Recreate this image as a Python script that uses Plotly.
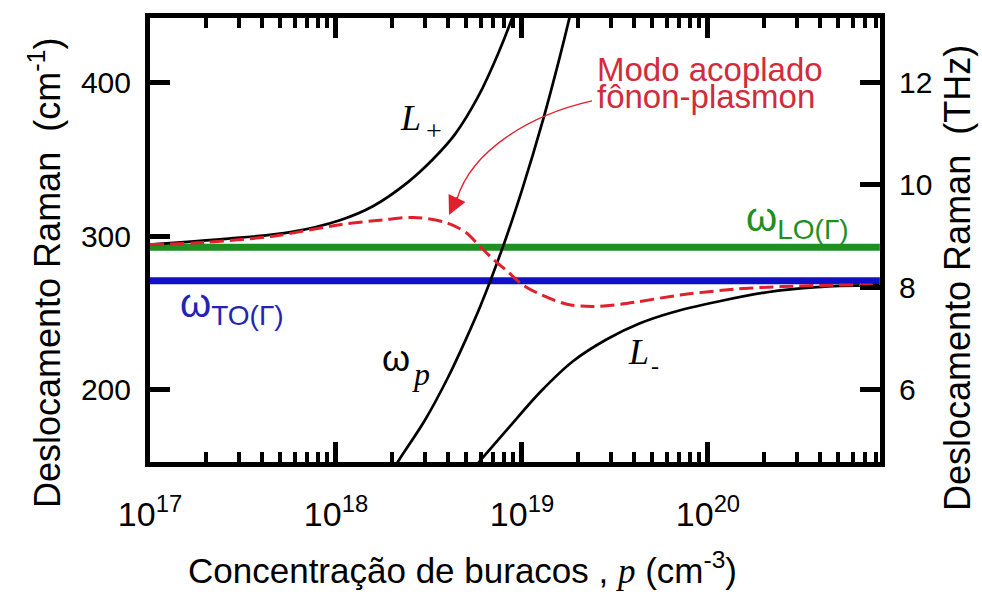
import plotly.graph_objects as go

# Hole concentration p (cm^-3) and Raman shift (cm^-1) of each branch
p_plasma = [2.0e18, 2.2e18, 3.0e18, 4.0e18, 5.0e18, 6.0e18, 8.0e18, 1.0e19, 1.3e19, 1.6e19, 1.85e19, 2.0e19]
w_plasma = [147, 155, 180, 208, 233, 255, 295, 330, 376, 417, 448, 466]

p_upper = [1e17, 3.05e17, 5.7e17, 1.05e18, 1.58e18, 2.44e18, 3.33e18, 4.37e18, 5.8e18, 7.43e18, 9.06e18, 1.04e19]
w_upper = [294.5, 299, 302.6, 310.4, 319.5, 335.2, 350.2, 366.4, 390.6, 418.6, 445.3, 468]

p_lower = [5.8e18, 6.17e18, 8.61e18, 1.25e19, 1.88e19, 2.86e19, 4.31e19, 6.48e19, 1.12e20, 2.08e20, 3.85e20, 7.71e20, 8.4e20]
w_lower = [152.1, 156.0, 176.2, 198.4, 218.6, 232.9, 243.3, 250.5, 257.3, 263.5, 266.8, 268.1, 268.1]

p_coupled = [1e17, 2e17, 4.6e17, 1.05e18, 1.8e18, 2.6e18, 3.9e18, 5.0e18, 5.9e18, 7.0e18, 8.3e18,
             1.0e19, 1.25e19, 1.75e19, 2.4e19, 3.4e19, 7.4e19, 1.4e20, 2.5e20, 4.7e20, 8.4e20]
w_coupled = [294.5, 296, 300, 307.5, 310.6, 312.2, 308.9, 302.4, 293.7, 285, 277.4,
             268.7, 262.2, 255.7, 254.2, 255.7, 262, 265.5, 267.2, 268.1, 268.3]

# Zone-centre phonon frequencies (cm^-1)
w_LO = 292.8
w_TO = 271.0

P_RANGE = [1e17, 8.4e20]
W_RANGE = [153, 442]
CM_PER_THZ = 33.356

x_ticks = [1e17, 1e18, 1e19, 1e20]
x_tick_text = ["10<sup>17</sup>", "10<sup>18</sup>", "10<sup>19</sup>", "10<sup>20</sup>"]
minor_vals = [m * 10.0 ** e for e in range(17, 21) for m in range(2, 10) if m * 10.0 ** e < P_RANGE[1]]
y_ticks = [200, 300, 400]
thz_ticks = [6, 8, 10, 12]

SANS = "Liberation Sans, Arial, sans-serif"
SERIF = "Liberation Serif, Times New Roman, serif"
GREEN = "#1f8f1f"
BLUE = "#1010c8"
RED = "#e0202c"
TEXT_RED = "#d02c3c"

# plot area in pixels
L, R, T, B = 150, 102, 18, 132
W, H = 982, 594
PW, PH = W - L - R, H - T - B


def fx(px):
    return (px - L) / PW


def fy(py):
    return (T + PH - py) / PH


fig = go.Figure()

fig.add_trace(go.Scatter(x=P_RANGE, y=[w_LO, w_LO], mode="lines",
                         line=dict(color=GREEN, width=7), hoverinfo="skip"))
fig.add_trace(go.Scatter(x=P_RANGE, y=[w_TO, w_TO], mode="lines",
                         line=dict(color=BLUE, width=7), hoverinfo="skip"))
for px_, wy in [(p_plasma, w_plasma), (p_upper, w_upper), (p_lower, w_lower)]:
    fig.add_trace(go.Scatter(x=px_, y=wy, mode="lines",
                             line=dict(color="black", width=2.7, shape="spline", smoothing=0.9)))
fig.add_trace(go.Scatter(x=p_coupled, y=w_coupled, mode="lines",
                         line=dict(color=RED, width=3, dash="14px,6px", shape="spline", smoothing=0.9)))
# empty trace to carry the THz axis
fig.add_trace(go.Scatter(x=[], y=[], yaxis="y2", mode="lines"))

tick_font = dict(family=SANS, size=30, color="black")

fig.update_layout(
    width=W, height=H,
    margin=dict(l=L, r=R, t=T, b=B),
    paper_bgcolor="white", plot_bgcolor="white",
    showlegend=False,
    xaxis=dict(
        type="log", range=[17, 20.925],
        tickmode="array", tickvals=x_ticks, ticktext=x_tick_text,
        ticks="inside", ticklen=20, tickwidth=5, tickcolor="black",
        minor=dict(tickmode="array", tickvals=minor_vals, ticks="inside",
                   ticklen=10, tickwidth=4, tickcolor="black"),
        showline=True, linewidth=5, linecolor="black", mirror="ticks",
        showgrid=False, zeroline=False,
        tickfont=dict(family=SANS, size=34, color="black"),
        ticklabelstandoff=18,
    ),
    yaxis=dict(
        range=W_RANGE, tickmode="array", tickvals=y_ticks,
        ticks="inside", ticklen=20, tickwidth=5, tickcolor="black",
        showline=True, linewidth=5, linecolor="black", mirror=False,
        showgrid=False, zeroline=False, tickfont=tick_font,
        ticklabelstandoff=8,
    ),
    yaxis2=dict(
        overlaying="y", side="right",
        range=[W_RANGE[0] / CM_PER_THZ, W_RANGE[1] / CM_PER_THZ],
        tickmode="array", tickvals=thz_ticks,
        ticks="inside", ticklen=20, tickwidth=5, tickcolor="black",
        showline=True, linewidth=5, linecolor="black",
        showgrid=False, zeroline=False, tickfont=tick_font,
        ticklabelstandoff=8,
    ),
)

nb = "\u00a0"
annotations = [
    # axis titles
    dict(x=fx(45), y=fy(273), text="Deslocamento Raman" + nb * 2 + "(cm<sup>-1</sup>)",
         textangle=-90, font=dict(family=SANS, size=36, color="black")),
    dict(x=fx(957), y=fy(278), text="Deslocamento Raman" + nb * 2 + "(THz)",
         textangle=-90, font=dict(family=SANS, size=36, color="black")),
    dict(x=fx(462), y=fy(568),
         text="Concentração de buracos , <span style='font-family:Liberation Serif'><i>p</i></span> (cm<sup>-3</sup>)",
         font=dict(family=SANS, size=35, color="black")),
    # branch labels
    dict(x=fx(410), y=fy(118), text="<i>L</i>", font=dict(family=SERIF, size=36, color="black")),
    dict(x=fx(434), y=fy(130), text="+", font=dict(family=SERIF, size=28, color="black")),
    dict(x=fx(638), y=fy(352), text="<i>L</i>", font=dict(family=SERIF, size=36, color="black")),
    dict(x=fx(655), y=fy(366), text="-", font=dict(family=SERIF, size=24, color="black")),
    dict(x=fx(396), y=fy(358), text="ω", font=dict(family=SANS, size=36, color="black")),
    dict(x=fx(421), y=fy(374), text="<i>p</i>", font=dict(family=SERIF, size=32, color="black")),
    dict(x=fx(744), y=fy(220), xanchor="left",
         text="ω<sub>LO(Γ)</sub>", font=dict(family=SANS, size=40, color=GREEN)),
    dict(x=fx(178), y=fy(306), xanchor="left",
         text="ω<sub>TO(Γ)</sub>", font=dict(family=SANS, size=40, color="#2424b4")),
    dict(x=fx(595), y=fy(69), xanchor="left",
         text="Modo acoplado", font=dict(family=SANS, size=33, color=TEXT_RED)),
    dict(x=fx(595), y=fy(97), xanchor="left",
         text="fônon-plasmon", font=dict(family=SANS, size=33, color=TEXT_RED)),
]
for a in annotations:
    a.setdefault("showarrow", False)
    a["xref"] = "paper"
    a["yref"] = "paper"
    a.setdefault("yanchor", "middle")
    a.setdefault("xanchor", "center")

# arrow head pointing at the coupled mode
annotations.append(dict(
    x=fx(449), y=fy(215), xref="paper", yref="paper",
    ax=9, ay=-19, axref="pixel", ayref="pixel",
    text="", showarrow=True, arrowhead=2, arrowsize=1.7, arrowwidth=2.2, arrowcolor=RED,
))
fig.update_layout(annotations=annotations)

# curved leader from the label
path = "M {:.4f},{:.4f} C {:.4f},{:.4f} {:.4f},{:.4f} {:.4f},{:.4f}".format(
    fx(592), fy(101), fx(530), fy(115), fx(472), fy(150), fx(457), fy(199))
fig.add_shape(type="path", path=path, xref="paper", yref="paper",
              line=dict(color=RED, width=1.3))

fig.write_html("out.html")
